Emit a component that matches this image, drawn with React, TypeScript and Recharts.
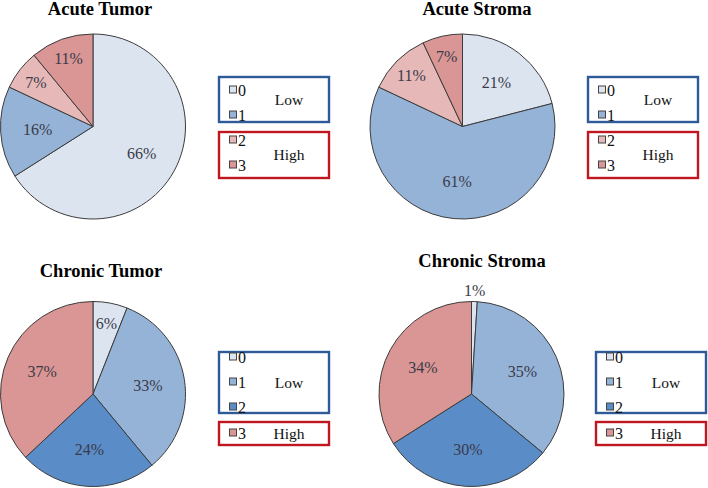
import { PieChart, Pie, Cell } from "recharts";

const grades = ["0", "1", "2", "3"];

const acuteTumor = [66, 16, 7, 11];
const acuteStroma = [21, 61, 11, 7];
const chronicTumor = [6, 33, 24, 37];
const chronicStroma = [1, 35, 30, 34];

const acuteColors = ["#DCE4F0", "#95B3D7", "#E6B9B8", "#D99694"];
const chronicColors = ["#DCE4F0", "#95B3D7", "#5A8CC8", "#D99694"];

const acuteLow = ["0", "1"];
const acuteHigh = ["2", "3"];
const chronicLow = ["0", "1", "2"];
const chronicHigh = ["3"];

const RADIAN = Math.PI / 180;
const serif = "'Liberation Serif', 'DejaVu Serif', serif";

const toData = (values: number[]) =>
  grades.map((g, i) => ({ name: g, value: values[i] }));

const renderLabel = (props: any) => {
  const { cx, cy, midAngle, outerRadius, value } = props;
  // small slices sit near the rim, tiny ones outside
  const k = value < 3 ? 1.12 : value < 15 ? 0.78 : 0.6;
  const r = outerRadius * k;
  const x = cx + r * Math.cos(-midAngle * RADIAN);
  const y = cy + r * Math.sin(-midAngle * RADIAN);
  return (
    <text
      x={x}
      y={y}
      textAnchor="middle"
      dominantBaseline="central"
      style={{ fontFamily: serif, fontSize: 16, fill: "#3a3a48" }}
    >
      {`${value}%`}
    </text>
  );
};

interface boxProps {
  x: number;
  y: number;
  h: number;
  items: string[];
  first: number;
  label: string;
  color: string;
  colors: string[];
}

const LegendBox = ({ x, y, h, items, first, label, color, colors }: boxProps) => (
  <g>
    <rect x={x + 1} y={y + 1} width={110} height={h - 2} fill="#fff" stroke={color} strokeWidth={2.4} />
    {items.map((it, i) => {
      const cy = y + first + i * 25;
      return (
        <g key={it}>
          <rect
            x={x + 11.5}
            y={cy - 4}
            width={7}
            height={7}
            fill={colors[grades.indexOf(it)]}
            stroke="#444"
            strokeWidth={1}
          />
          <text x={x + 20} y={cy + 5.5} fontFamily={serif} fontSize={16} fill="#111">
            {it}
          </text>
        </g>
      );
    })}
    <text
      x={x + 71}
      y={y + h / 2 + 5}
      textAnchor="middle"
      fontFamily={serif}
      fontSize={15.5}
      fill="#111"
    >
      {label}
    </text>
  </g>
);

const titleStyle = {
  fontFamily: serif,
  fontSize: 18.5,
  fontWeight: 700,
  fill: "#000",
};

export default function App() {
  const pies = [
    { data: acuteTumor, colors: acuteColors, cx: 93, cy: 126.5 },
    { data: acuteStroma, colors: acuteColors, cx: 462.5, cy: 126.5 },
    { data: chronicTumor, colors: chronicColors, cx: 93, cy: 394 },
    { data: chronicStroma, colors: chronicColors, cx: 471.5, cy: 394 },
  ];

  return (
    <div style={{ position: "absolute", left: 0, top: 0, width: 708, height: 488, background: "#fff" }}>
      <PieChart width={708} height={488} margin={{ top: 0, right: 0, bottom: 0, left: 0 }}>
        {pies.map((p, idx) => (
          <Pie
            key={idx}
            data={toData(p.data)}
            dataKey="value"
            nameKey="name"
            cx={p.cx}
            cy={p.cy}
            outerRadius={92.5}
            startAngle={90}
            endAngle={-270}
            stroke="#3c3c3c"
            strokeWidth={1}
            label={renderLabel}
            labelLine={false}
            isAnimationActive={false}
          >
            {p.data.map((_, i) => (
              <Cell key={i} fill={p.colors[i]} />
            ))}
          </Pie>
        ))}
      </PieChart>

      <svg
        width={708}
        height={488}
        style={{ position: "absolute", left: 0, top: 0, pointerEvents: "none" }}
      >
        <text x={100} y={15} textAnchor="middle" style={titleStyle}>Acute Tumor</text>
        <text x={477} y={15} textAnchor="middle" style={titleStyle}>Acute Stroma</text>
        <text x={101} y={277} textAnchor="middle" style={titleStyle}>Chronic Tumor</text>
        <text x={482} y={267} textAnchor="middle" style={titleStyle}>Chronic Stroma</text>

        <LegendBox x={218} y={76} h={47} items={acuteLow} first={14} label="Low" color="#2E5A98" colors={acuteColors} />
        <LegendBox x={218} y={131} h={48} items={acuteHigh} first={9} label="High" color="#C0161F" colors={acuteColors} />
        <LegendBox x={587} y={76} h={47} items={acuteLow} first={14} label="Low" color="#2E5A98" colors={acuteColors} />
        <LegendBox x={587} y={131} h={48} items={acuteHigh} first={9} label="High" color="#C0161F" colors={acuteColors} />

        <LegendBox x={218} y={351} h={63} items={chronicLow} first={6} label="Low" color="#2E5A98" colors={chronicColors} />
        <LegendBox x={218} y={421} h={25} items={chronicHigh} first={12} label="High" color="#C0161F" colors={chronicColors} />
        <LegendBox x={595} y={351} h={63} items={chronicLow} first={6} label="Low" color="#2E5A98" colors={chronicColors} />
        <LegendBox x={595} y={421} h={25} items={chronicHigh} first={12} label="High" color="#C0161F" colors={chronicColors} />
      </svg>
    </div>
  );
}
